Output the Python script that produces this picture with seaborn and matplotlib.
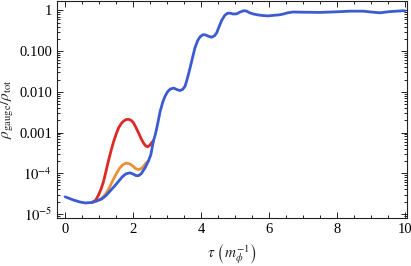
import numpy as np
import pandas as pd
import matplotlib
matplotlib.use("Agg")
import matplotlib.pyplot as plt
import matplotlib.ticker as mticker
import seaborn as sns

# log10 values
blue_t = [0.0, 0.25, 0.45, 0.6, 0.75, 0.9, 1.08, 1.2, 1.32, 1.45, 1.57, 1.68, 1.78, 1.9, 2.0, 2.09, 2.16,
          2.24, 2.35, 2.45, 2.52, 2.6, 2.65, 2.72, 2.79, 2.87, 2.94, 3.02, 3.1, 3.2, 3.3, 3.38, 3.46, 3.53,
          3.6, 3.68, 3.76, 3.82, 3.9, 3.97, 4.05, 4.12, 4.2, 4.31, 4.4, 4.46, 4.53, 4.61, 4.7, 4.78, 4.86,
          4.95, 5.05, 5.15, 5.25, 5.33, 5.43, 5.54, 5.7, 5.85, 5.98, 6.15, 6.3, 6.42, 6.55, 6.71, 7.0, 7.5,
          8.0, 8.38, 8.77, 9.0, 9.26, 9.56, 9.94, 10.0]
blue_log = [-4.58, -4.66, -4.71, -4.73, -4.72, -4.69, -4.63, -4.55, -4.44, -4.32, -4.20, -4.09, -4.02, -3.99,
            -4.02, -4.06, -4.06, -4.01, -3.87, -3.70, -3.55, -3.20, -3.06, -2.80, -2.50, -2.26, -2.11, -1.99,
            -1.93, -1.91, -1.95, -1.97, -1.94, -1.86, -1.66, -1.40, -1.12, -0.92, -0.74, -0.65, -0.60,
            -0.60, -0.63, -0.66, -0.62, -0.55, -0.40, -0.24, -0.12, -0.07, -0.07, -0.09, -0.085, -0.04,
            -0.01, -0.015, -0.06, -0.09, -0.115, -0.13, -0.135, -0.12, -0.11, -0.09, -0.06, -0.04, -0.045,
            -0.05, -0.035, -0.02, -0.02, -0.04, -0.06, -0.03, -0.01, -0.01]

orange_t = [1.0, 1.1, 1.2, 1.3, 1.4, 1.5, 1.6, 1.7, 1.8, 1.9, 2.0, 2.08, 2.16, 2.23, 2.3, 2.37, 2.45]
orange_log = [-4.66, -4.60, -4.50, -4.36, -4.18, -4.02, -3.88, -3.79, -3.75, -3.77, -3.83, -3.89, -3.91,
              -3.89, -3.84, -3.76, -3.70]

red_t = [0.8, 0.9, 0.98, 1.06, 1.13, 1.2, 1.27, 1.35, 1.42, 1.5, 1.57, 1.65, 1.72, 1.8, 1.86, 1.94, 2.01,
         2.08, 2.16, 2.23, 2.3, 2.36, 2.42, 2.47, 2.53, 2.6]
red_log = [-4.72, -4.66, -4.54, -4.38, -4.20, -3.96, -3.71, -3.45, -3.24, -3.04, -2.89, -2.78, -2.72, -2.68,
           -2.675, -2.70, -2.76, -2.87, -3.01, -3.14, -3.25, -3.32, -3.35, -3.33, -3.27, -3.20]

y_ticks = [1, 0.1, 0.01, 0.001, 1e-4, 1e-5]
y_tick_labels = ["1", "0.100", "0.010", "0.001", r"$10^{-4}$", r"$10^{-5}$"]
x_ticks = [0, 2, 4, 6, 8, 10]

colors = {"red": "#DC2A24", "orange": "#E8913D", "blue": "#3C5BD0"}

sns.set_theme(style="ticks")
plt.rcParams["font.family"] = ["Liberation Serif", "DejaVu Serif"]
plt.rcParams["mathtext.fontset"] = "stix"

fig = plt.figure(figsize=(4.11, 2.66), dpi=100)
ax = fig.add_axes([57 / 411, 1 - 218 / 266, 350 / 411, 217 / 266])

frames = []
for name, t, lg in [("red", red_t, red_log), ("orange", orange_t, orange_log), ("blue", blue_t, blue_log)]:
    frames.append(pd.DataFrame({"t": t, "rho": 10 ** np.array(lg), "s": name}))
df = pd.concat(frames, ignore_index=True)

for name in ["red", "orange", "blue"]:
    sns.lineplot(data=df[df.s == name], x="t", y="rho", color=colors[name], lw=2.0, ax=ax,
                 legend=False, sort=True, estimator=None, solid_joinstyle="round",
                 solid_capstyle="round")

ax.set_yscale("log")
ax.set_xlim(-0.24, 10.06)
ax.set_ylim(10 ** -5.1, 10 ** 0.23)
ax.set_yticks(y_ticks)
ax.set_yticklabels(y_tick_labels)
ax.yaxis.set_minor_locator(mticker.LogLocator(base=10, subs=np.arange(2, 10), numticks=20))
ax.yaxis.set_minor_formatter(mticker.NullFormatter())
ax.set_xticks(x_ticks)
ax.xaxis.set_minor_locator(mticker.MultipleLocator(0.5))

ax.tick_params(which="both", direction="in", top=True, right=True, labelsize=10.5, colors="#222222",
               labelcolor="black", width=0.7)
ax.tick_params(which="major", length=4)
ax.tick_params(which="minor", length=2)
ax.tick_params(axis="x", pad=3.5)
for sp in ax.spines.values():
    sp.set_linewidth(0.8)
    sp.set_color("#222222")

ax.set_xlabel(r"$\tau\ \left(m_\phi^{-1}\right)$", fontsize=11, labelpad=4)
ax.set_ylabel(r"$\rho_{\rm gauge}/\rho_{\rm tot}$", fontsize=11, labelpad=2)

fig.savefig("out.png", dpi=100)
